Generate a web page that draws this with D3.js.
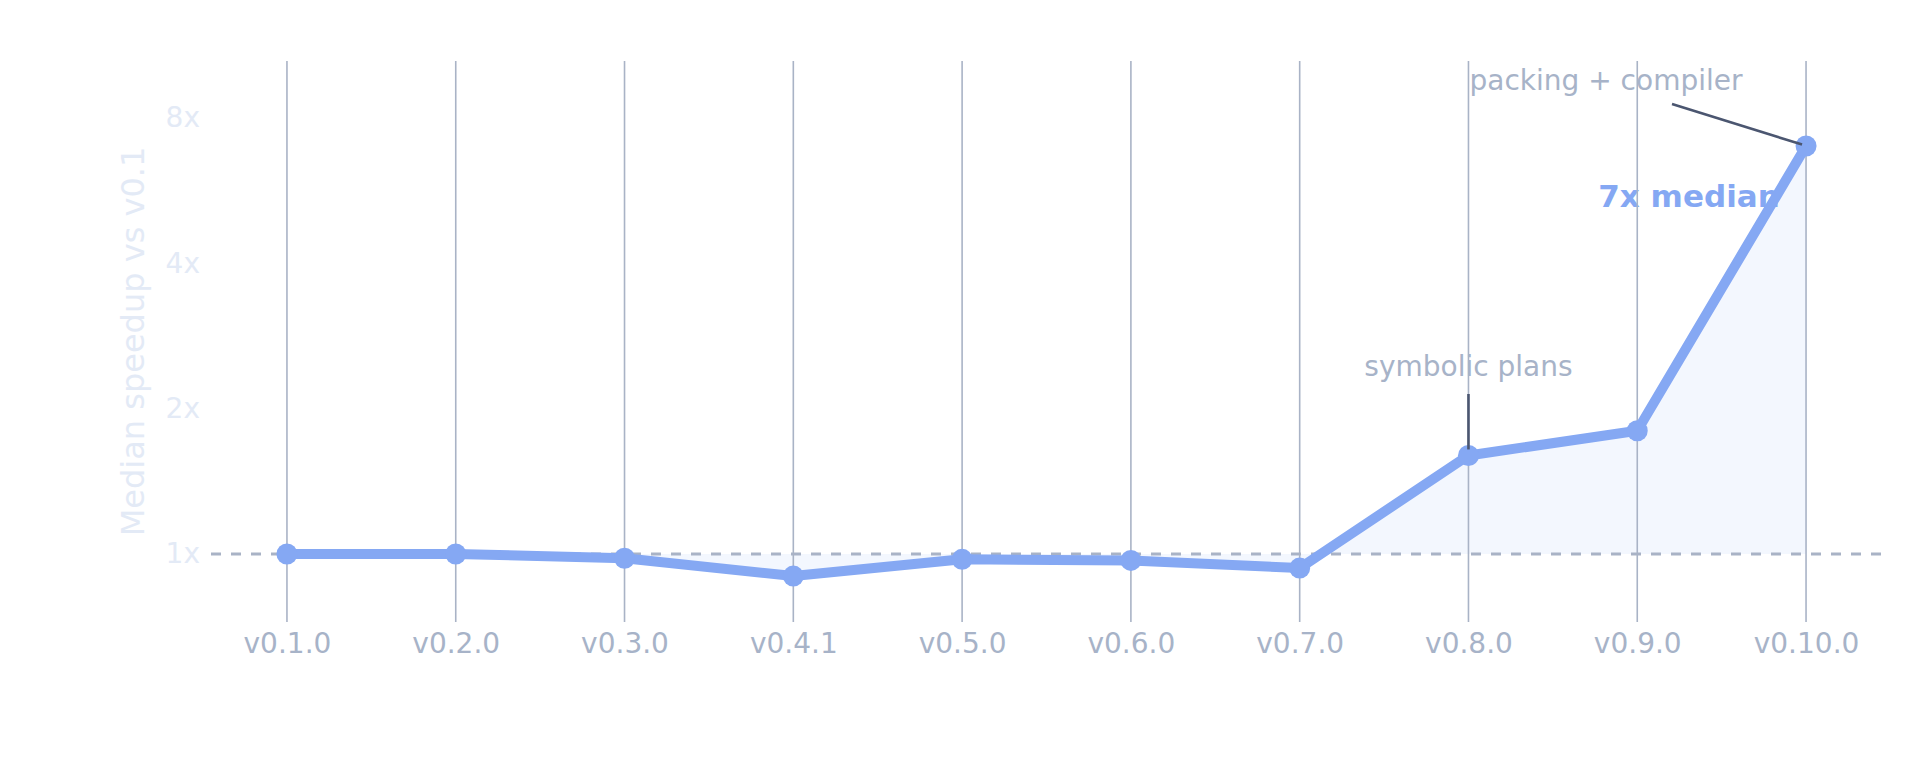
<!DOCTYPE html>
<html>
<head>
<meta charset="utf-8">
<script src="https://cdn.jsdelivr.net/npm/d3@7"></script>
<style>
  html, body { margin: 0; padding: 0; background: #ffffff; }
  svg { display: block; font-family: "DejaVu Sans", sans-serif; }
</style>
</head>
<body>
<svg id="chart" width="1920" height="760"></svg>
<script>
// ---- data ----
const versions = ["v0.1.0","v0.2.0","v0.3.0","v0.4.1","v0.5.0","v0.6.0","v0.7.0","v0.8.0","v0.9.0","v0.10.0"];
const speedup  = [1.0, 1.0, 0.98, 0.90, 0.975, 0.97, 0.935, 1.6, 1.8, 7.0];
const yTicks   = [1, 2, 4, 8];
const yTickLabels = ["1x", "2x", "4x", "8x"];
const yTitle = "Median speedup vs v0.1";
const annotations = [
  { label: "symbolic plans", version: "v0.8.0" },
  { label: "packing + compiler", version: "v0.10.0" }
];
const headline = "7x median";

(function () {
// ---- layout ----
const plotLeft = 211, plotRight = 1882, plotTop = 61, plotBottom = 622;

const svg = d3.select("#chart");

const x = d3.scalePoint().domain(versions).range([plotLeft, plotRight]).padding(0.45);
const y = d3.scaleLog().base(2).domain([0.723, 10.5]).range([plotBottom, plotTop]);

const data = versions.map((v, i) => ({ v, s: speedup[i] }));

const textGray = "#a7b3c8";
const faint = "#e3eaf6";
const lineColor = "#85a8f3";
const leaderColor = "#4b5670";
const gridColor = "#a9b3c6";

// area between 1x baseline and series
const area = d3.area()
  .x(d => x(d.v))
  .y0(y(1))
  .y1(d => y(d.s));
svg.append("path")
  .datum(data)
  .attr("d", area)
  .attr("fill", "#f3f7fe");

// annotation texts (under grid, as in reference)
const g = svg.append("g");

g.append("text")
  .attr("x", x(annotations[0].version))
  .attr("y", 376)
  .attr("text-anchor", "middle")
  .attr("font-size", 28)
  .attr("fill", textGray)
  .text(annotations[0].label);

g.append("text")
  .attr("x", 1606)
  .attr("y", 90)
  .attr("text-anchor", "middle")
  .attr("font-size", 28)
  .attr("fill", textGray)
  .text(annotations[1].label);

g.append("text")
  .attr("x", 1689)
  .attr("y", 207)
  .attr("text-anchor", "middle")
  .attr("font-size", 31)
  .attr("font-weight", "bold")
  .attr("fill", lineColor)
  .text(headline);

// vertical grid
svg.append("g")
  .selectAll("line")
  .data(versions)
  .join("line")
  .attr("x1", d => x(d)).attr("x2", d => x(d))
  .attr("y1", plotTop).attr("y2", plotBottom)
  .attr("stroke", gridColor)
  .attr("stroke-width", 1.6);

// 1x reference dashed line
svg.append("line")
  .attr("x1", plotLeft).attr("x2", plotRight)
  .attr("y1", y(1)).attr("y2", y(1))
  .attr("stroke", gridColor)
  .attr("stroke-width", 3)
  .attr("stroke-dasharray", "10,10");

// y axis
const yAxis = d3.axisLeft(y)
  .tickValues(yTicks)
  .tickFormat((d, i) => yTickLabels[i])
  .tickSize(0)
  .tickPadding(11);
const yg = svg.append("g").attr("transform", `translate(${plotLeft},0)`).call(yAxis);
yg.select(".domain").remove();
yg.selectAll("text")
  .attr("font-size", 28)
  .attr("font-family", "DejaVu Sans, sans-serif")
  .attr("fill", faint);

// x axis
const xAxis = d3.axisBottom(x).tickSize(0).tickPadding(11);
const xg = svg.append("g").attr("transform", `translate(0,${plotBottom})`).call(xAxis);
xg.select(".domain").remove();
xg.selectAll("text")
  .attr("font-size", 28)
  .attr("font-family", "DejaVu Sans, sans-serif")
  .attr("fill", textGray);

// y title
svg.append("text")
  .attr("transform", `translate(143.5,${(plotTop + plotBottom) / 2}) rotate(-90)`)
  .attr("text-anchor", "middle")
  .attr("font-size", 32)
  .attr("fill", faint)
  .text(yTitle);

// series line
const line = d3.line().x(d => x(d.v)).y(d => y(d.s));
svg.append("path")
  .datum(data)
  .attr("d", line)
  .attr("fill", "none")
  .attr("stroke", lineColor)
  .attr("stroke-width", 10)
  .attr("stroke-linejoin", "round");

svg.append("g")
  .selectAll("circle")
  .data(data)
  .join("circle")
  .attr("cx", d => x(d.v))
  .attr("cy", d => y(d.s))
  .attr("r", 10.5)
  .attr("fill", lineColor);

// leader lines
const p8 = data.find(d => d.v === annotations[0].version);
svg.append("line")
  .attr("x1", x(p8.v)).attr("x2", x(p8.v))
  .attr("y1", 394).attr("y2", y(p8.s) - 6)
  .attr("stroke", leaderColor)
  .attr("stroke-width", 2.6);

const p10 = data.find(d => d.v === annotations[1].version);
svg.append("line")
  .attr("x1", 1672).attr("y1", 104)
  .attr("x2", x(p10.v) - 4).attr("y2", y(p10.s) - 1.5)
  .attr("stroke", leaderColor)
  .attr("stroke-width", 2.6);
})();
</script>
</body>
</html>
